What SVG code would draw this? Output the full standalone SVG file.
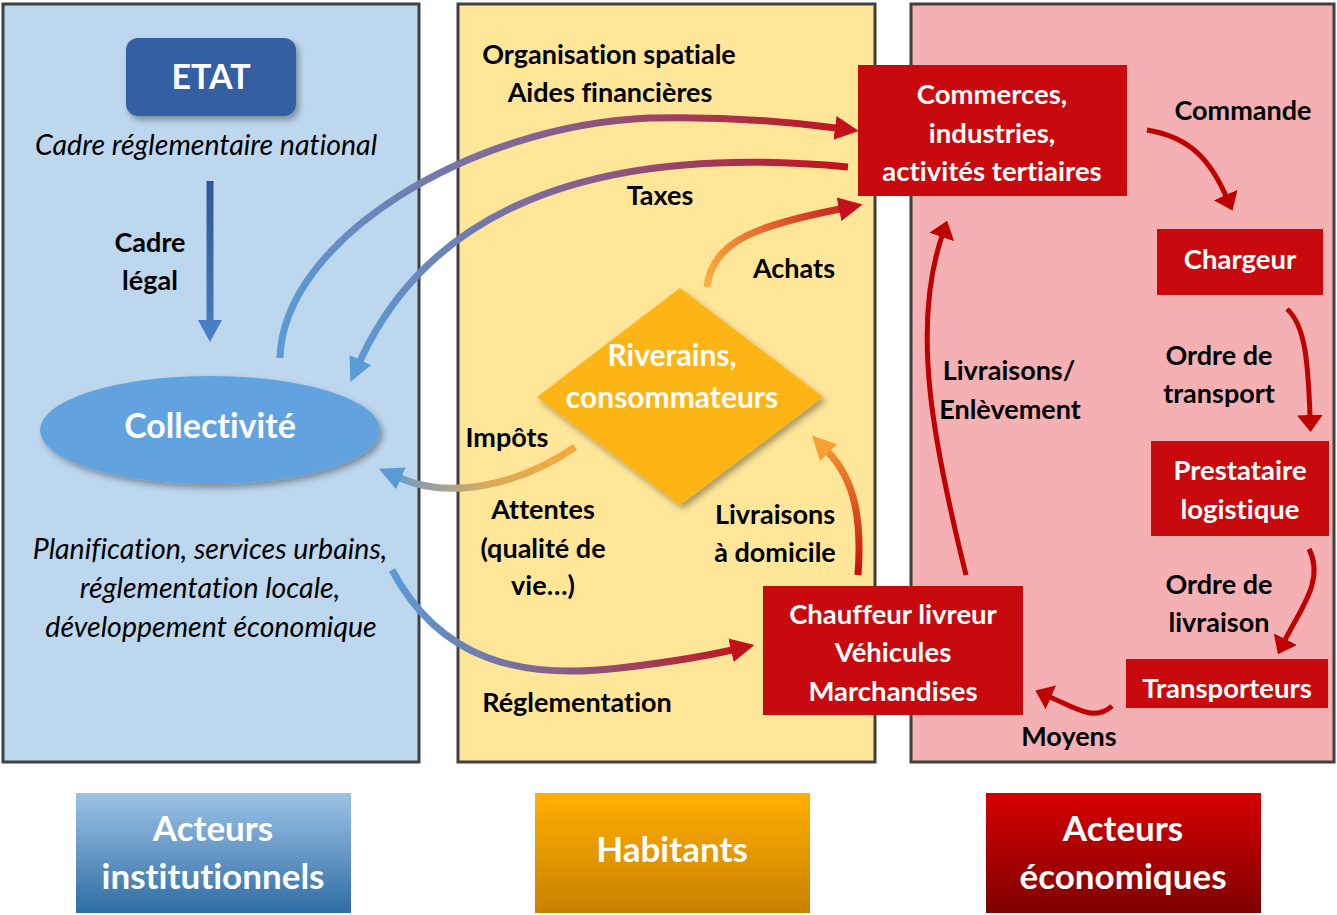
<svg xmlns="http://www.w3.org/2000/svg" width="1337" height="915" viewBox="0 0 1337 915">
<style>
text{font-variant-ligatures:none}
.panel{stroke:#404040;stroke-width:3}
.lbl{font-family:Lato,"Liberation Sans",sans-serif;font-weight:bold;font-size:27px;fill:#000;text-anchor:middle}
.it{font-family:Lato,"Liberation Sans",sans-serif;font-style:italic;font-size:28.5px;fill:#000;text-anchor:middle}
.wt{font-family:Lato,"Liberation Sans",sans-serif;font-weight:bold;font-size:27.5px;fill:#fff;text-anchor:middle}
.big{font-size:34px}
.leg{font-size:35px}
.redbox{fill:#C8090D}
.arr{fill:none;stroke-width:7}
.rarr{fill:none;stroke:#C00000;stroke-width:5}
</style>
<defs>
<filter id="sh" x="-20%" y="-20%" width="140%" height="150%">
<feDropShadow dx="3" dy="4" stdDeviation="3" flood-color="#000" flood-opacity="0.35"/>
</filter>
<marker id="mBlue" viewBox="0 0 24 24" refX="1" refY="12" markerWidth="24" markerHeight="24" markerUnits="userSpaceOnUse" orient="auto"><path d="M0,0 L24,12 L0,24 z" fill="#5B9BD5"/></marker>
<marker id="mRed" viewBox="0 0 24 24" refX="1" refY="12" markerWidth="24" markerHeight="24" markerUnits="userSpaceOnUse" orient="auto"><path d="M0,0 L24,12 L0,24 z" fill="#C4101A"/></marker>
<marker id="mOrange" viewBox="0 0 24 24" refX="1" refY="12" markerWidth="24" markerHeight="24" markerUnits="userSpaceOnUse" orient="auto"><path d="M0,0 L24,12 L0,24 z" fill="#F6A035"/></marker>
<marker id="mDark" viewBox="0 0 22 24" refX="1" refY="12" markerWidth="22" markerHeight="24" markerUnits="userSpaceOnUse" orient="auto"><path d="M0,0 L22,12 L0,24 z" fill="#4A7EC4"/></marker>
<marker id="mR" viewBox="0 0 17 26" refX="1" refY="13" markerWidth="17" markerHeight="26" markerUnits="userSpaceOnUse" orient="auto"><path d="M0,0 L17,13 L0,26 z" fill="#C00000"/></marker>
<linearGradient id="gOrg" gradientUnits="userSpaceOnUse" x1="280" y1="0" x2="860" y2="0"><stop offset="0" stop-color="#5B9BD5"/><stop offset="0.5" stop-color="#8A5A86"/><stop offset="1" stop-color="#C4101A"/></linearGradient>
<linearGradient id="gTax" gradientUnits="userSpaceOnUse" x1="848" y1="0" x2="350" y2="0"><stop offset="0" stop-color="#C4101A"/><stop offset="0.5" stop-color="#8A5A86"/><stop offset="1" stop-color="#5B9BD5"/></linearGradient>
<linearGradient id="gImp" gradientUnits="userSpaceOnUse" x1="575" y1="0" x2="380" y2="0"><stop offset="0" stop-color="#F7A83A"/><stop offset="0.45" stop-color="#D9AA60"/><stop offset="1" stop-color="#5B9BD5"/></linearGradient>
<linearGradient id="gReg" gradientUnits="userSpaceOnUse" x1="392" y1="0" x2="755" y2="0"><stop offset="0" stop-color="#5B9BD5"/><stop offset="0.45" stop-color="#84628C"/><stop offset="1" stop-color="#C4101A"/></linearGradient>
<linearGradient id="gAch" gradientUnits="userSpaceOnUse" x1="707" y1="287" x2="863" y2="204"><stop offset="0" stop-color="#FBB040"/><stop offset="1" stop-color="#C4101A"/></linearGradient>
<linearGradient id="gLiv" gradientUnits="userSpaceOnUse" x1="0" y1="575" x2="0" y2="435"><stop offset="0" stop-color="#C8090D"/><stop offset="1" stop-color="#F6A035"/></linearGradient>
<linearGradient id="gCad" gradientUnits="userSpaceOnUse" x1="0" y1="181" x2="0" y2="343"><stop offset="0" stop-color="#2F5597"/><stop offset="1" stop-color="#4A7EC4"/></linearGradient>
<linearGradient id="lgBlue" x1="0" y1="0" x2="0" y2="1"><stop offset="0" stop-color="#9DC3E6"/><stop offset="1" stop-color="#2E6DA4"/></linearGradient>
<linearGradient id="lgOrange" x1="0" y1="0" x2="0" y2="1"><stop offset="0" stop-color="#FFB000"/><stop offset="1" stop-color="#C98000"/></linearGradient>
<linearGradient id="lgRed" x1="0" y1="0" x2="0" y2="1"><stop offset="0" stop-color="#D60000"/><stop offset="1" stop-color="#800000"/></linearGradient>
</defs>

<g id="panels">
<rect class="panel" x="3" y="4" width="416" height="758" fill="#BDD7EE"/>
<rect class="panel" x="458" y="4" width="417" height="758" fill="#FFE699"/>
<rect class="panel" x="911" y="4" width="423" height="758" fill="#F4B0B2"/>
</g>

<g id="etat">
<rect x="126" y="38" width="170" height="78" rx="12" fill="#345EA3" filter="url(#sh)"/>
<text class="wt big" x="211" y="89">ETAT</text>
</g>
<text class="it" x="206" y="155">Cadre réglementaire national</text>
<text class="lbl" x="150" y="252">Cadre</text>
<text class="lbl" x="150" y="290">légal</text>

<g id="collectivite">
<ellipse cx="210" cy="430" rx="170" ry="54" fill="#62A3DF" filter="url(#sh)"/>
<text class="wt big" x="210" y="438">Collectivité</text>
</g>
<text class="it" x="210" y="559">Planification, services urbains,</text>
<text class="it" x="210" y="598">réglementation locale,</text>
<text class="it" x="211" y="637">développement économique</text>

<g id="riverains">
<polygon points="680,288 823,397 680,505 537,397" fill="#FDB515" filter="url(#sh)"/>
<text class="wt" x="672" y="366" style="font-size:30px">Riverains,</text>
<text class="wt" x="672" y="408" style="font-size:30px">consommateurs</text>
</g>

<g id="commerces">
<rect class="redbox" x="858" y="65" width="269" height="131"/>
<text class="wt" x="992" y="104">Commerces,</text>
<text class="wt" x="992" y="143">industries,</text>
<text class="wt" x="992" y="181">activités tertiaires</text>
</g>
<g id="chargeur">
<rect class="redbox" x="1157" y="229" width="166" height="66"/>
<text class="wt" x="1240" y="269">Chargeur</text>
</g>
<g id="prestataire">
<rect class="redbox" x="1151" y="441" width="178" height="95"/>
<text class="wt" x="1240" y="480">Prestataire</text>
<text class="wt" x="1240" y="519">logistique</text>
</g>
<g id="transporteurs">
<rect class="redbox" x="1126" y="659" width="202" height="49"/>
<text class="wt" x="1227" y="698">Transporteurs</text>
</g>
<g id="chauffeur">
<rect class="redbox" x="763" y="586" width="260" height="129"/>
<text class="wt" x="893" y="624">Chauffeur livreur</text>
<text class="wt" x="893" y="662">Véhicules</text>
<text class="wt" x="893" y="701">Marchandises</text>
</g>

<g id="connectors">
<path d="M210,181 L210,321" fill="none" stroke="url(#gCad)" stroke-width="7" marker-end="url(#mDark)"/>
<path class="arr" stroke="url(#gOrg)" d="M280,358 C283,240 470,125 650,118 C730,116 790,122 836,128" marker-end="url(#mRed)"/>
<path class="arr" stroke="url(#gTax)" d="M848,167 C560,140 420,230 360,361" marker-end="url(#mBlue)"/>
<path class="arr" stroke="url(#gImp)" d="M575,447 C520,485 450,500 400,478" marker-end="url(#mBlue)"/>
<path class="arr" stroke="url(#gReg)" d="M392,570 C440,660 520,680 620,668 C680,661 710,655 732,650" marker-end="url(#mRed)"/>
<path class="arr" stroke="url(#gAch)" d="M707,287 C712,240 760,225 840,209" marker-end="url(#mRed)"/>
<path class="arr" stroke="url(#gLiv)" d="M858,575 C862,520 855,480 828,452" marker-end="url(#mOrange)"/>
<path class="rarr" d="M1147,130 C1190,137 1210,160 1226,196" marker-end="url(#mR)"/>
<path class="rarr" d="M1287,309 C1305,325 1308,360 1310,416" marker-end="url(#mR)"/>
<path class="rarr" d="M1309,549 C1325,580 1300,610 1285,640" marker-end="url(#mR)"/>
<path class="rarr" d="M1112,706 C1095,722 1075,708 1050,697" marker-end="url(#mR)"/>
<path class="rarr" d="M966,575 C935,450 910,330 942,236" marker-end="url(#mR)"/>
</g>

<g id="labels">
<text class="lbl" x="609" y="64">Organisation spatiale</text>
<text class="lbl" x="610" y="102">Aides financières</text>
<text class="lbl" x="660" y="205">Taxes</text>
<text class="lbl" x="794" y="278">Achats</text>
<text class="lbl" x="507" y="447">Impôts</text>
<text class="lbl" x="543" y="519">Attentes</text>
<text class="lbl" x="543" y="558">(qualité de</text>
<text class="lbl" x="543" y="595">vie…)</text>
<text class="lbl" x="775" y="524">Livraisons</text>
<text class="lbl" x="775" y="562">à domicile</text>
<text class="lbl" x="577" y="712">Réglementation</text>
<text class="lbl" x="1243" y="120">Commande</text>
<text class="lbl" x="1219" y="365">Ordre de</text>
<text class="lbl" x="1219" y="403">transport</text>
<text class="lbl" x="1219" y="594">Ordre de</text>
<text class="lbl" x="1219" y="632">livraison</text>
<text class="lbl" x="1009" y="380">Livraisons/</text>
<text class="lbl" x="1010" y="419">Enlèvement</text>
<text class="lbl" x="1069" y="746">Moyens</text>
</g>

<g id="legend-institutionnels">
<rect x="76" y="793" width="275" height="120" fill="url(#lgBlue)"/>
<text class="wt leg" x="213" y="841">Acteurs</text>
<text class="wt leg" x="213" y="889">institutionnels</text>
</g>
<g id="legend-habitants">
<rect x="535" y="793" width="275" height="120" fill="url(#lgOrange)"/>
<text class="wt leg" x="672" y="862">Habitants</text>
</g>
<g id="legend-economiques">
<rect x="986" y="793" width="275" height="120" fill="url(#lgRed)"/>
<text class="wt leg" x="1123" y="841">Acteurs</text>
<text class="wt leg" x="1123" y="889">économiques</text>
</g>
</svg>
